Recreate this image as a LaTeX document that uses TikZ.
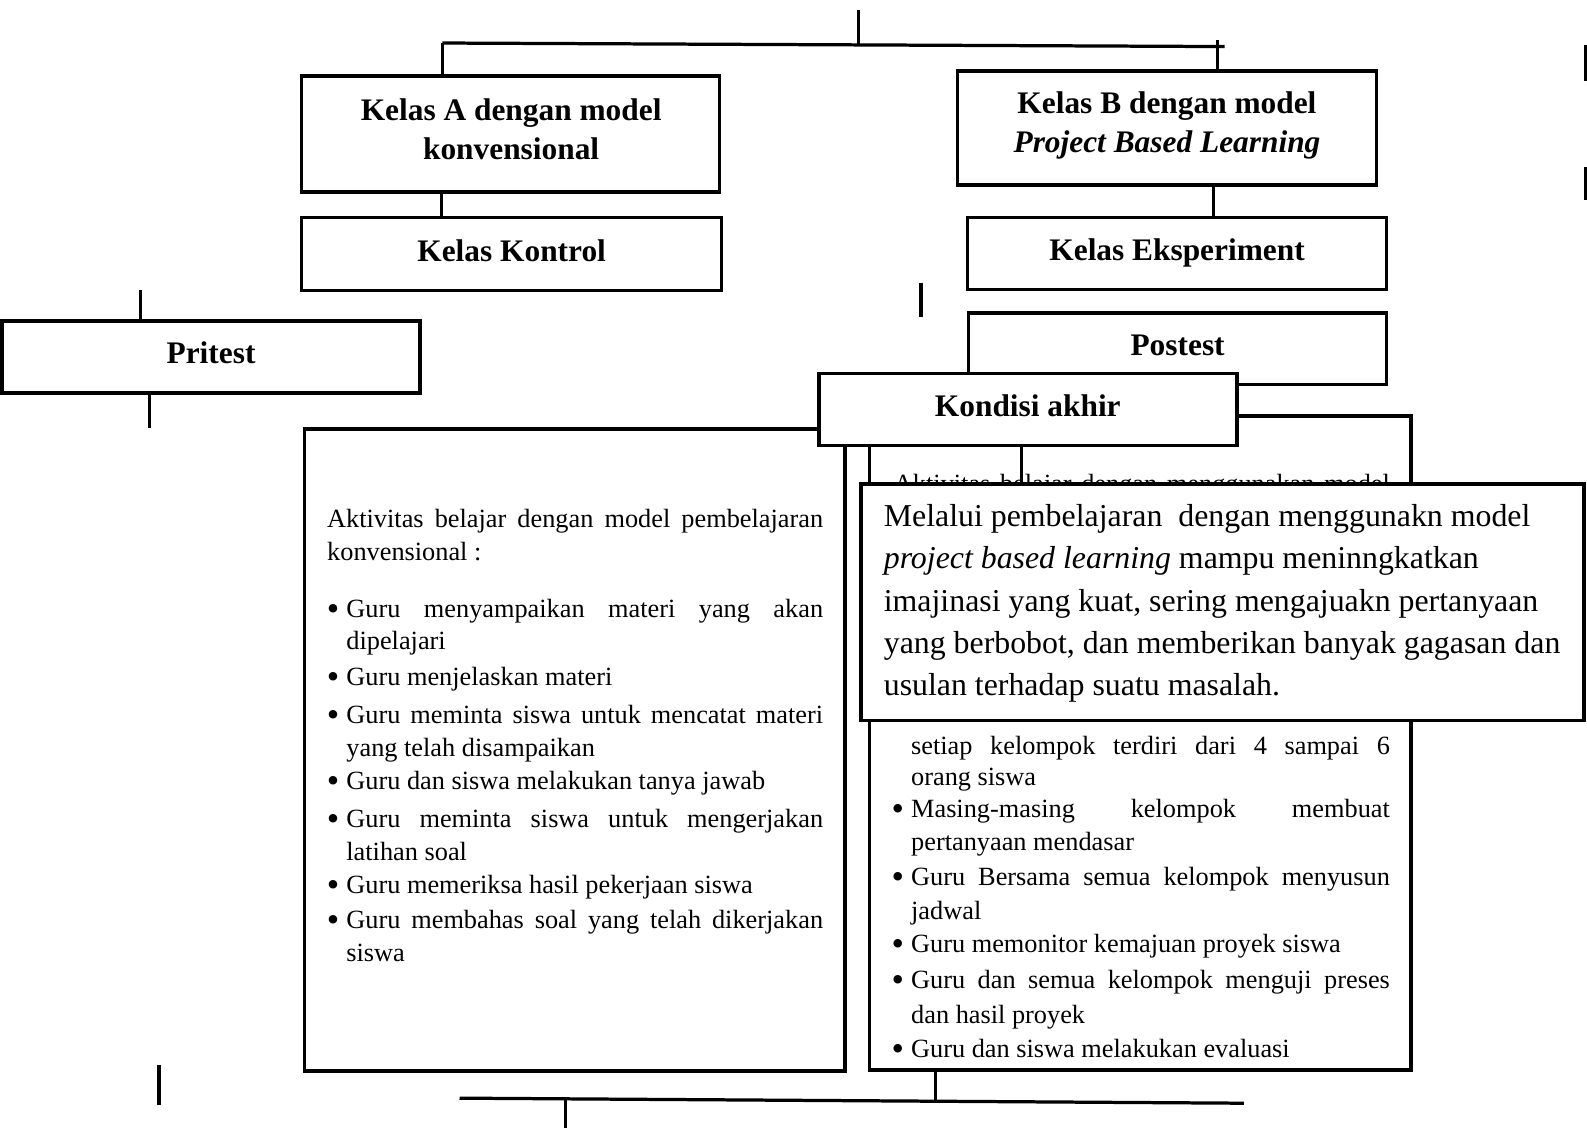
\documentclass[tikz,border=0pt]{standalone}
\usepackage{fontspec}
\setmainfont{Liberation Serif}
\begin{document}
\begin{tikzpicture}[x=0.75pt,y=-0.75pt,
  boxnode/.style={draw, line width=2.7pt, fill=white, inner sep=0pt, outer sep=0pt},
  conn/.style={line width=2.4pt},
  ttl/.style={font=\fontsize{23.25}{29}\selectfont\bfseries, anchor=base, inner sep=0pt, yshift=-1.2pt},
  body/.style={font=\fontsize{19.5}{24}\selectfont, anchor=base west, inner sep=0pt, yshift=-2.3pt},
  bul/.style={font=\fontsize{19.5}{24}\selectfont, anchor=base, inner sep=0pt, yshift=-2.3pt},
  big/.style={font=\fontsize{23.6}{31}\selectfont, anchor=base west, inner sep=0pt, yshift=-2.3pt}]
\newcommand{\bigbul}{\raisebox{-2.2pt}{\scalebox{1.35}{\textbullet}}}
\useasboundingbox (0,0) rectangle (1568,1114);

% ---- top boxes
\node[boxnode, minimum width=309.75pt, minimum height=86.25pt] (A) at (504.5,132.5) {};
\node[ttl] (A1) at (505,117) {Kelas A dengan model};
\node[ttl] (A2) at (505,155.5) {konvensional};
\node[boxnode, minimum width=310.5pt, minimum height=84.75pt] (B) at (1153,126.5) {};
\node[ttl] (B1) at (1153,110.5) {Kelas B dengan model};
\node[ttl] (B2) at (1153,149.5) {\itshape Project Based Learning};

\coordinate (top) at (848,10);
\coordinate (topj) at (848,43.5);
\coordinate (hl) at (437,42.5);
\coordinate (hr) at (1210,46);
\coordinate (bt) at (1203,40);
\draw[conn] (top) -- (topj);
\draw[conn] (hl) -- (hr);
\draw[conn] (hl) -- (hl |- A.north);
\draw[conn] (bt) -- (bt |- B.north);

\node[boxnode, minimum width=311.25pt, minimum height=54pt] (K) at (505.5,251) {};
\node[ttl] (K1) at (505.5,256.5) {Kelas Kontrol};
\node[boxnode, minimum width=310.5pt, minimum height=53.25pt] (E) at (1163,250.5) {};
\node[ttl] (E1) at (1163,255.5) {Kelas Eksperiment};
\coordinate (ax) at (436,0);
\coordinate (bx) at (1199,0);
\draw[conn] (A.south -| ax) -- (K.north -| ax);
\draw[conn] (B.south -| bx) -- (E.north -| bx);

\coordinate (m1) at (910,280);
\coordinate (m2) at (910,313);
\draw[conn] (m1) -- (m2);

% ---- pritest
\node[boxnode, minimum width=309.75pt, minimum height=53.25pt] (P) at (208.5,352.5) {};
\node[ttl] (P1) at (208.5,357.5) {Pritest};
\coordinate (pt1) at (139,287);
\coordinate (pt2) at (148,423);
\draw[conn] (pt1) -- (pt1 |- P.north);
\draw[conn] (pt2 |- P.south) -- (pt2);

% ---- big boxes
\node[boxnode, minimum width=400.5pt, minimum height=475.5pt] (L) at (568,741) {};
\node[boxnode, minimum width=401.25pt, minimum height=484.5pt] (R) at (1126.5,734) {};

% left box text
\node[body] (l1) at (323,518) {\makebox[367.5pt][s]{Aktivitas belajar dengan model pembelajaran}};
\node[body] (l2) at (323,551) {konvensional :};
\node[bul] (b1) at (329,607) {\bigbul};
\node[body] (l3) at (342,607) {\makebox[353.25pt][s]{Guru menyampaikan materi yang akan}};
\node[body] (l4) at (342,639) {dipelajari};
\node[bul] (b2) at (329,674) {\bigbul};
\node[body] (l5) at (342,674) {Guru menjelaskan materi};
\node[bul] (b3) at (329,712) {\bigbul};
\node[body] (l6) at (342,712) {\makebox[353.25pt][s]{Guru meminta siswa untuk mencatat materi}};
\node[body] (l7) at (342,744) {yang telah disampaikan};
\node[bul] (b4) at (329,777) {\bigbul};
\node[body] (l8) at (342,777) {Guru dan siswa melakukan tanya jawab};
\node[bul] (b5) at (329,815) {\bigbul};
\node[body] (l9) at (342,815) {\makebox[353.25pt][s]{Guru meminta siswa untuk mengerjakan}};
\node[body] (l10) at (342,847) {latihan soal};
\node[bul] (b6) at (329,880) {\bigbul};
\node[body] (l11) at (342,880) {Guru memeriksa hasil pekerjaan siswa};
\node[bul] (b7) at (329,914) {\bigbul};
\node[body] (l12) at (342,914) {\makebox[353.25pt][s]{Guru membahas soal yang telah dikerjakan}};
\node[body] (l13) at (342,947) {siswa};

% right box text
\node[body] (r1) at (883,484) {\makebox[367.5pt][s]{Aktivitas belajar dengan menggunakan model}};
\node[body] (r2) at (900,742) {\makebox[354.75pt][s]{setiap kelompok terdiri dari 4 sampai 6}};
\node[body] (r3) at (900,773) {orang siswa};
\node[bul] (c1) at (887,805) {\bigbul};
\node[body] (r4) at (900,805) {\makebox[354.75pt][s]{Masing-masing kelompok membuat}};
\node[body] (r5) at (900,837) {pertanyaan mendasar};
\node[bul] (c2) at (887,872) {\bigbul};
\node[body] (r6) at (900,872) {\makebox[354.75pt][s]{Guru Bersama semua kelompok menyusun}};
\node[body] (r7) at (900,905) {jadwal};
\node[bul] (c3) at (887,938) {\bigbul};
\node[body] (r8) at (900,938) {Guru memonitor kemajuan proyek siswa};
\node[bul] (c4) at (887,974) {\bigbul};
\node[body] (r9) at (900,974) {\makebox[354.75pt][s]{Guru dan semua kelompok menguji preses}};
\node[body] (r10) at (900,1008) {dan hasil proyek};
\node[bul] (c5) at (887,1042) {\bigbul};
\node[body] (r11) at (900,1042) {Guru dan siswa melakukan evaluasi};

% ---- postest and kondisi akhir
\node[boxnode, minimum width=309.75pt, minimum height=53.25pt] (PO) at (1163.5,344.5) {};
\node[ttl] (PO1) at (1163.5,349.5) {Postest};
\node[boxnode, minimum width=309.75pt, minimum height=53.25pt] (KA) at (1015.5,404.5) {};
\node[ttl] (KA1) at (1015.5,409.5) {Kondisi akhir};

% ---- overlay box
\node[boxnode, minimum width=535.5pt, minimum height=175.5pt] (O) at (1208,595) {};
\coordinate (kx) at (1009,0);
\draw[conn] (KA.south -| kx) -- (O.north -| kx);
\node[big] (o1) at (873,517) {Melalui pembelajaran\ \ dengan menggunakn model};
\node[big] (o2) at (873,559) {\itshape project based learning\upshape\ mampu meninngkatkan};
\node[big] (o3) at (873,601) {imajinasi yang kuat, sering mengajuakn pertanyaan};
\node[big] (o4) at (873,643) {yang berbobot, dan memberikan banyak gagasan dan};
\node[big] (o5) at (873,684) {usulan terhadap suatu masalah.};

% ---- bottom lines
\coordinate (q1) at (157,1052);
\coordinate (q2) at (157,1092);
\draw[conn] (q1) -- (q2);
\coordinate (bl) at (454,1085);
\coordinate (br) at (1229,1090);
\draw[conn] (bl) -- (br);
\coordinate (rx) at (924,1088);
\draw[conn] (R.south -| rx) -- (rx);
\coordinate (dx1) at (559,1087);
\coordinate (dx2) at (559,1114);
\draw[conn] (dx1) -- (dx2);

% ---- right-edge fragments
\coordinate (e1) at (1566.5,44);
\coordinate (e2) at (1566.5,80);
\coordinate (e3) at (1566.5,165);
\coordinate (e4) at (1566.5,198);
\draw[conn] (e1) -- (e2);
\draw[conn] (e3) -- (e4);
\end{tikzpicture}
\end{document}
